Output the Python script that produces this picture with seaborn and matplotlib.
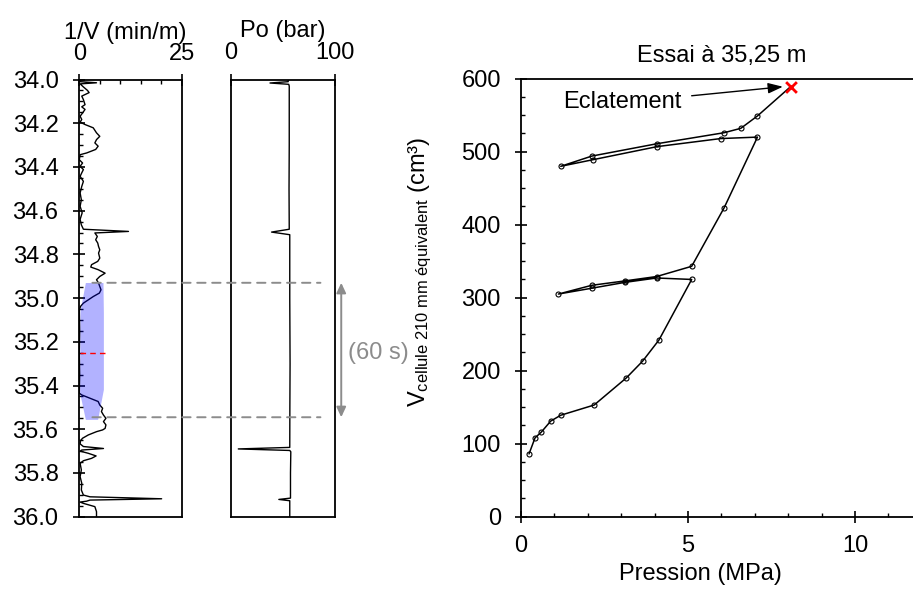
import matplotlib
matplotlib.use("Agg")
import matplotlib.pyplot as plt
import seaborn as sns
import pandas as pd
from matplotlib.patches import ConnectionPatch
from matplotlib.ticker import MultipleLocator, FormatStrFormatter

# ---------------- data ----------------
# left log : 1/V (min/m) versus depth (m)
depth_1v = [34.000, 34.010, 34.015, 34.020, 34.034, 34.050, 34.060, 34.076, 34.092, 34.115,
            34.125, 34.137, 34.153, 34.168, 34.183, 34.195, 34.206, 34.221, 34.244, 34.260,
            34.275, 34.290, 34.305, 34.320, 34.336, 34.344, 34.367, 34.382, 34.397, 34.412,
            34.427, 34.443, 34.466, 34.489, 34.519, 34.550, 34.580, 34.610, 34.640, 34.665,
            34.685, 34.695, 34.702, 34.718, 34.733, 34.748, 34.764, 34.779, 34.794, 34.817,
            34.832, 34.847, 34.858, 34.870, 34.886, 34.901, 34.916, 34.931, 34.947, 34.962,
            34.977, 34.993, 35.008, 35.023, 35.038, 35.054, 35.150, 35.250, 35.350, 35.435,
            35.443, 35.458, 35.473, 35.489, 35.504, 35.519, 35.535, 35.550, 35.565, 35.580,
            35.596, 35.603, 35.611, 35.626, 35.641, 35.652, 35.667, 35.679, 35.688, 35.695,
            35.700, 35.710, 35.722, 35.733, 35.744, 35.756, 35.786, 35.817, 35.847, 35.878,
            35.901, 35.909, 35.918, 35.924, 35.929, 35.933, 35.939, 35.954, 35.977, 36.000]
inv_v = [0.0, 0.2, 4.2, 0.2, 1.0, 2.0, 2.4, 0.6, 1.0, 1.4,
         0.6, 1.4, 0.8, 0.2, 0.6, 0.2, 1.4, 3.4, 4.2, 5.0,
         4.2, 3.8, 4.6, 4.0, 1.8, 0.2, 0.0, 0.8, 0.2, 1.0,
         0.6, 0.2, 1.0, 0.6, 0.2, 0.5, 0.2, 0.7, 0.2, 0.5,
         1.0, 12.0, 3.8, 4.4, 4.0, 4.5, 4.7, 5.0, 4.7, 5.0,
         4.5, 3.0, 2.8, 4.6, 6.3, 5.0, 4.2, 4.7, 5.0, 5.3,
         4.9, 3.4, 2.2, 1.0, 0.3, 0.0, 0.1, 0.0, 0.1, 0.0,
         0.6, 2.6, 4.6, 5.0, 5.7, 5.4, 5.9, 6.5, 5.9, 6.5,
         6.3, 5.7, 4.2, 2.2, 0.8, 0.3, 0.2, 1.0, 5.9, 0.6,
         0.2, 2.2, 4.1, 3.0, 1.0, 0.2, 0.5, 0.2, 0.6, 0.5,
         1.0, 2.6, 20.1, 2.6, 1.8, 0.2, 1.0, 3.8, 4.2, 4.2]

# middle log : Po (bar) versus depth (m)
depth_po = [34.000, 34.010, 34.016, 34.022, 34.030, 34.300, 34.500, 34.685, 34.698, 34.710,
            35.000, 35.300, 35.500, 35.683, 35.690, 35.697, 35.703, 35.800, 35.915, 35.921,
            35.927, 36.000]
po_bar = [55.0, 55.0, 37.5, 55.5, 56.0, 56.0, 55.8, 56.0, 39.0, 56.5,
          56.5, 56.8, 56.6, 56.5, 7.0, 56.5, 57.5, 57.2, 57.2, 46.0,
          56.5, 56.5]

# test window and shaded zone
test_depth = 35.25
window_top = 34.93
window_bottom = 35.545
shade_v = [1.6, 5.9, 6.0, 6.0, 4.6, 1.6, 0.2, 0.3]
shade_d = [34.931, 34.931, 35.069, 35.42, 35.557, 35.557, 35.435, 35.06]

# right chart : pressuremeter curve
pressure = [0.24, 0.42, 0.61, 0.89, 1.19, 2.19, 3.15, 3.64, 4.13, 5.11,
            4.06, 3.11, 2.12, 1.12,
            2.12, 3.11, 4.06, 5.11, 6.08, 7.08,
            5.98, 4.08, 2.15, 1.19,
            2.12, 4.08, 6.08, 6.58, 7.08]
volume = [86, 108, 116, 131, 139, 153, 190, 213, 242, 325,
          327, 321, 313, 305,
          317, 323, 329, 343, 423, 520,
          518, 507, 489, 480,
          494, 511, 526, 532, 549]
burst_p, burst_v = 8.07, 589

# ---------------- style ----------------
sns.set_style("ticks")
plt.rcParams["font.family"] = ["Liberation Sans", "DejaVu Sans"]
plt.rcParams["mathtext.fontset"] = "custom"
plt.rcParams["mathtext.rm"] = "Liberation Sans"
plt.rcParams["mathtext.it"] = "Liberation Sans"
plt.rcParams["axes.linewidth"] = 1.3
plt.rcParams["axes.edgecolor"] = "black"
plt.rcParams["axes.labelcolor"] = "black"
plt.rcParams["text.color"] = "black"
plt.rcParams["xtick.color"] = "black"
plt.rcParams["ytick.color"] = "black"

FS = 17
W, H = 913, 589
fig = plt.figure(figsize=(W / 100, H / 100), dpi=100)

def frac(x0, x1, ytop, ybot):
    return [x0 / W, 1 - ybot / H, (x1 - x0) / W, (ybot - ytop) / H]

ax1 = fig.add_axes(frac(79.3, 181.7, 79.5, 516.7))
ax2 = fig.add_axes(frac(231, 335, 79.5, 516.7))
ax3 = fig.add_axes(frac(521, 521 + 12 * 33.4, 78.7, 516.7))

# ---------- left panel: 1/V ----------
df1 = pd.DataFrame({"d": depth_1v, "v": inv_v})
sns.lineplot(data=df1, x="v", y="d", sort=False, estimator=None, color="black", lw=1.0, ax=ax1)
ax1.fill(shade_v, shade_d, color="#0000ff", alpha=0.3, lw=0, zorder=3)
ax1.plot([0.2, 6.3], [test_depth, test_depth], color="red", lw=1.0, ls=(0, (4, 3)), zorder=4)
ax1.set_xlim(0, 25)
ax1.set_ylim(36, 34)
ax1.xaxis.tick_top()
ax1.xaxis.set_label_position("top")
ax1.set_xticks([0, 25])
ax1.xaxis.set_minor_locator(MultipleLocator(5))
ax1.set_yticks([34 + 0.2 * i for i in range(11)])
ax1.yaxis.set_major_formatter(FormatStrFormatter("%.1f"))
ax1.yaxis.set_minor_locator(MultipleLocator(0.05))
ax1.tick_params(which="major", direction="inout", length=8, width=1.2, labelsize=FS)
ax1.tick_params(axis="y", which="major", pad=11.0)
ax1.tick_params(axis="x", which="major", pad=6.5)
ax1.tick_params(which="minor", direction="in", length=3, width=1.0)
ax1.tick_params(right=False, bottom=False, which="both")
ax1.set_xlabel("1/V (min/m)", fontsize=FS, labelpad=2.5, x=0.45)
ax1.set_ylabel("")

# ---------- middle panel: Po ----------
df2 = pd.DataFrame({"d": depth_po, "p": po_bar})
sns.lineplot(data=df2, x="p", y="d", sort=False, estimator=None, color="black", lw=1.0, ax=ax2)
ax2.set_xlim(0, 100)
ax2.set_ylim(36, 34)
ax2.xaxis.tick_top()
ax2.xaxis.set_label_position("top")
ax2.set_xticks([0, 100])
ax2.tick_params(which="major", direction="inout", length=8, width=1.2, labelsize=FS, pad=7.0)
ax2.tick_params(left=False, labelleft=False, right=False, bottom=False)
ax2.set_yticks([])
ax2.set_xlabel("Po (bar)", fontsize=FS, labelpad=4.0)
ax2.set_ylabel("")

# connection lines / arrow for the test window
for dd in (window_top, window_bottom):
    cp = ConnectionPatch(xyA=(3.2, dd), coordsA=ax1.transData,
                         xyB=(86, dd), coordsB=ax2.transData,
                         color="#8c8c8c", lw=1.4, ls=(0, (4.3, 3.4)), zorder=5)
    fig.add_artist(cp)
ax2.annotate("", xy=(106, window_top), xytext=(106, window_bottom),
             xycoords="data", annotation_clip=False,
             arrowprops=dict(arrowstyle="<|-|>,head_length=0.6,head_width=0.28",
                             color="#8c8c8c", lw=1.4, mutation_scale=10,
                             shrinkA=0, shrinkB=0))
ax2.text(142, test_depth, "(60 s)", color="#8c8c8c", fontsize=FS,
         ha="center", va="center", clip_on=False)

# ---------- right panel: pressuremeter ----------
line_p = pressure + [burst_p]
line_v = volume + [burst_v]
df3 = pd.DataFrame({"p": line_p, "v": line_v})
sns.lineplot(data=df3, x="p", y="v", sort=False, estimator=None, color="black", lw=1.1,
             marker="o", markersize=3.6, markerfacecolor="none", markeredgecolor="black",
             markeredgewidth=0.8, markevery=list(range(len(pressure))), ax=ax3)
sns.scatterplot(x=[burst_p], y=[burst_v], marker="x", color="red", s=60, linewidth=2.0,
                ax=ax3, zorder=5)
ax3.annotate("Eclatement", xy=(burst_p - 0.23, burst_v), xytext=(1.26, 559.5),
             fontsize=FS, ha="left", va="baseline",
             arrowprops=dict(arrowstyle="-|>,head_length=0.9,head_width=0.32",
                             color="black", lw=1.0, mutation_scale=10,
                             relpos=(1.0, 0.75), shrinkA=5, shrinkB=0))
ax3.set_xlim(0, 12)
ax3.set_ylim(0, 600)
ax3.set_xticks([0, 5, 10])
ax3.xaxis.set_minor_locator(MultipleLocator(1))
ax3.set_yticks(list(range(0, 601, 100)))
ax3.yaxis.set_minor_locator(MultipleLocator(25))
ax3.tick_params(which="major", direction="inout", length=8, width=1.2, labelsize=FS)
ax3.tick_params(axis="y", which="major", pad=10.5)
ax3.tick_params(axis="x", which="major", pad=9.0)
ax3.tick_params(which="minor", direction="in", length=3, width=1.0)
ax3.tick_params(top=False, right=False, which="both")
ax3.spines["right"].set_visible(False)
ax3.set_title("Essai à 35,25 m", fontsize=FS, pad=12)
ax3.set_xlabel("Pression (MPa)", fontsize=FS, labelpad=4.5, x=0.447)
ax3.set_ylabel(r"V$_{\mathregular{cellule\ 210\ mm\ équivalent}}$ (cm³)", fontsize=FS)
ax3.yaxis.set_label_coords(-0.217, 0.559)

fig.savefig("out.png", dpi=100)
